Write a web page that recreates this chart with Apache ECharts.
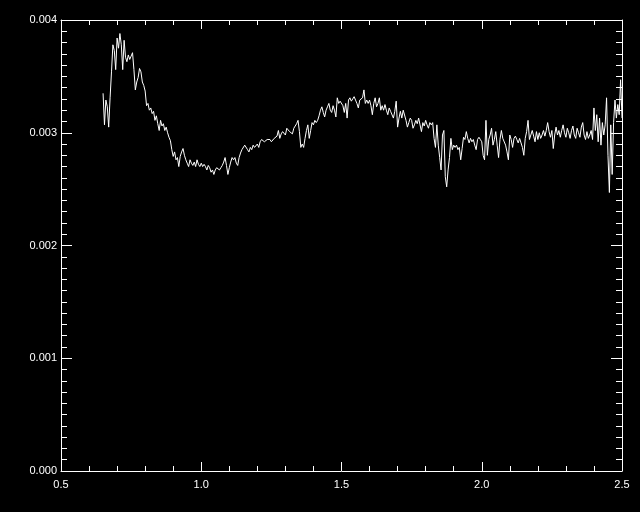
<!DOCTYPE html>
<html>
<head>
<meta charset="utf-8">
<script src="https://cdn.jsdelivr.net/npm/echarts@6/dist/echarts.min.js"></script>
<style>
html,body{margin:0;padding:0;background:#000;}
#chart{width:640px;height:512px;}
</style>
</head>
<body>
<div id="chart"></div>
<script>
// Wavelength samples (x axis)
const wavelength = [
0.650,0.655,0.660,0.665,0.670,0.675,0.680,0.685,0.690,0.695,0.700,
0.705,0.710,0.715,0.720,0.725,0.730,0.735,0.740,0.745,0.750,
0.755,0.760,0.765,0.770,0.775,0.780,0.785,0.790,0.795,0.800,
0.805,0.810,0.815,0.820,0.825,0.830,0.835,0.840,0.845,0.850,
0.855,0.860,0.865,0.870,0.875,0.880,0.885,0.890,0.895,0.900,
0.905,0.910,0.915,0.920,0.925,0.930,0.935,0.940,0.945,0.950,
0.955,0.960,0.965,0.970,0.975,0.980,0.985,0.990,0.995,1.000,
1.005,1.010,1.015,1.020,1.025,1.030,1.035,1.040,1.045,1.050,
1.055,1.060,1.065,1.070,1.075,1.080,1.085,1.090,1.095,1.100,
1.105,1.110,1.115,1.120,1.125,1.130,1.135,1.140,1.145,1.150,
1.155,1.160,1.165,1.170,1.175,1.180,1.185,1.190,1.195,1.200,
1.205,1.210,1.215,1.220,1.225,1.230,1.235,1.240,1.245,1.250,
1.255,1.260,1.265,1.270,1.275,1.280,1.285,1.290,1.295,1.300,
1.305,1.310,1.315,1.320,1.325,1.330,1.335,1.340,1.345,1.350,
1.355,1.360,1.365,1.370,1.375,1.380,1.385,1.390,1.395,1.400,
1.405,1.410,1.415,1.420,1.425,1.430,1.435,1.440,1.445,1.450,
1.455,1.460,1.465,1.470,1.475,1.480,1.485,1.490,1.495,1.500,
1.505,1.510,1.515,1.520,1.525,1.530,1.535,1.540,1.545,1.550,
1.555,1.560,1.565,1.570,1.575,1.580,1.585,1.590,1.595,1.600,
1.605,1.610,1.615,1.620,1.625,1.630,1.635,1.640,1.645,1.650,
1.655,1.660,1.665,1.670,1.675,1.680,1.685,1.690,1.695,1.700,
1.705,1.710,1.715,1.720,1.725,1.730,1.735,1.740,1.745,1.750,
1.755,1.760,1.765,1.770,1.775,1.780,1.785,1.790,1.795,1.800,
1.805,1.810,1.815,1.820,1.825,1.830,1.835,1.840,1.845,1.850,
1.855,1.860,1.865,1.870,1.875,1.880,1.885,1.890,1.895,1.900,
1.905,1.910,1.915,1.920,1.925,1.930,1.935,1.940,1.945,1.950,
1.955,1.960,1.965,1.970,1.975,1.980,1.985,1.990,1.995,2.000,
2.005,2.010,2.015,2.020,2.025,2.030,2.035,2.040,2.045,2.050,
2.055,2.060,2.065,2.070,2.075,2.080,2.085,2.090,2.095,2.100,
2.105,2.110,2.115,2.120,2.125,2.130,2.135,2.140,2.145,2.150,
2.155,2.160,2.165,2.170,2.175,2.180,2.185,2.190,2.195,2.200,
2.205,2.210,2.215,2.220,2.225,2.230,2.235,2.240,2.245,2.250,
2.255,2.260,2.265,2.270,2.275,2.280,2.285,2.290,2.295,2.300,
2.305,2.310,2.315,2.320,2.325,2.330,2.335,2.340,2.345,2.350,
2.355,2.360,2.365,2.370,2.375,2.380,2.385,2.390,2.395,2.400,
2.405,2.410,2.415,2.420,2.425,2.430,2.435,2.440,2.445,2.450,
2.455,2.460,2.465,2.470,2.475,2.480,2.485,2.490,2.495,2.500
];

// Flux values (y axis)
const flux = [
0.00335,0.00307,0.00329,0.00323,0.00305,0.00331,0.00354,0.00378,0.00373,0.00356,0.00384,
0.00375,0.00388,0.00378,0.00356,0.00382,0.00367,0.00363,0.00369,0.00365,0.00368,
0.00371,0.00356,0.00338,0.00345,0.00349,0.00357,0.00354,0.00345,0.00342,0.00337,
0.00324,0.00326,0.00320,0.00322,0.00317,0.00319,0.00311,0.00315,0.00308,0.00302,
0.00311,0.00306,0.00308,0.00302,0.00305,0.00300,0.00296,0.00293,0.00285,0.00279,
0.00283,0.00276,0.00278,0.00270,0.00279,0.00283,0.00286,0.00280,0.00276,0.00273,
0.00270,0.00276,0.00273,0.00271,0.00274,0.00270,0.00276,0.00272,0.00270,0.00273,
0.00270,0.00272,0.00270,0.00267,0.00271,0.00269,0.00265,0.00267,0.00263,0.00267,
0.00269,0.00270,0.00267,0.00269,0.00271,0.00274,0.00278,0.00271,0.00263,0.00269,
0.00274,0.00278,0.00276,0.00278,0.00273,0.00271,0.00278,0.00282,0.00285,0.00286,
0.00289,0.00288,0.00285,0.00283,0.00287,0.00285,0.00289,0.00287,0.00288,0.00290,
0.00287,0.00292,0.00294,0.00295,0.00292,0.00291,0.00294,0.00293,0.00294,0.00292,
0.00291,0.00295,0.00294,0.00297,0.00302,0.00295,0.00299,0.00301,0.00302,0.00298,
0.00304,0.00305,0.00301,0.00302,0.00299,0.00304,0.00306,0.00308,0.00311,0.00301,
0.00287,0.00290,0.00287,0.00295,0.00302,0.00307,0.00295,0.00302,0.00309,0.00307,
0.00311,0.00309,0.00311,0.00315,0.00320,0.00323,0.00318,0.00314,0.00320,0.00323,
0.00326,0.00320,0.00318,0.00324,0.00320,0.00314,0.00331,0.00326,0.00328,0.00329,
0.00324,0.00318,0.00326,0.00313,0.00329,0.00331,0.00328,0.00330,0.00332,0.00329,
0.00326,0.00322,0.00329,0.00328,0.00331,0.00338,0.00326,0.00329,0.00326,0.00329,
0.00324,0.00316,0.00326,0.00331,0.00323,0.00326,0.00331,0.00320,0.00324,0.00320,
0.00325,0.00320,0.00316,0.00322,0.00319,0.00320,0.00313,0.00319,0.00328,0.00305,
0.00313,0.00319,0.00313,0.00320,0.00319,0.00311,0.00305,0.00309,0.00313,0.00311,
0.00304,0.00307,0.00311,0.00308,0.00313,0.00307,0.00301,0.00309,0.00306,0.00311,
0.00307,0.00304,0.00309,0.00307,0.00309,0.00295,0.00287,0.00307,0.00289,0.00278,
0.00267,0.00298,0.00302,0.00261,0.00252,0.00267,0.00278,0.00295,0.00285,0.00289,
0.00287,0.00289,0.00285,0.00287,0.00276,0.00286,0.00296,0.00294,0.00301,0.00295,
0.00291,0.00295,0.00292,0.00294,0.00289,0.00285,0.00294,0.00296,0.00294,0.00292,
0.00280,0.00276,0.00311,0.00280,0.00294,0.00298,0.00304,0.00289,0.00294,0.00301,
0.00289,0.00278,0.00294,0.00302,0.00295,0.00294,0.00289,0.00283,0.00276,0.00298,
0.00294,0.00287,0.00295,0.00297,0.00294,0.00291,0.00295,0.00291,0.00287,0.00280,
0.00295,0.00301,0.00311,0.00294,0.00295,0.00302,0.00297,0.00292,0.00301,0.00294,
0.00300,0.00295,0.00298,0.00302,0.00297,0.00302,0.00309,0.00301,0.00296,0.00302,
0.00286,0.00298,0.00305,0.00298,0.00302,0.00296,0.00302,0.00307,0.00300,0.00296,
0.00304,0.00300,0.00295,0.00302,0.00306,0.00298,0.00295,0.00304,0.00300,0.00296,
0.00305,0.00309,0.00298,0.00294,0.00301,0.00295,0.00298,0.00302,0.00294,0.00322,
0.00302,0.00316,0.00292,0.00313,0.00289,0.00309,0.00298,0.00307,0.00331,0.00280,
0.00247,0.00307,0.00263,0.00309,0.00329,0.00313,0.00325,0.00316,0.00347,0.00313
];

// Axis tick settings
const xTicks = [0.5, 1.0, 1.5, 2.0, 2.5];
const yTicks = [0.000, 0.001, 0.002, 0.003, 0.004];

const points = wavelength.map((w, i) => [w, flux[i]]);

const white = '#ffffff';
const labelFont = { color: white, fontSize: 11, fontFamily: 'Liberation Sans, Arial, sans-serif' };

function xAxisDef(pos, showLabel) {
  return {
    type: 'value', position: pos,
    min: xTicks[0], max: xTicks[xTicks.length - 1], interval: 0.5,
    axisLine: { show: true, onZero: false, lineStyle: { color: white, width: 1 } },
    axisTick: { show: true, inside: true, length: 9, lineStyle: { color: white, width: 1 } },
    minorTick: { show: true, splitNumber: 5, length: 5, lineStyle: { color: white, width: 1 } },
    splitLine: { show: false }, minorSplitLine: { show: false },
    axisLabel: Object.assign({ show: showLabel, margin: 8, formatter: v => v.toFixed(1) }, labelFont)
  };
}
function yAxisDef(pos, showLabel) {
  return {
    type: 'value', position: pos,
    min: yTicks[0], max: yTicks[yTicks.length - 1], interval: 0.001,
    axisLine: { show: true, onZero: false, lineStyle: { color: white, width: 1 } },
    axisTick: { show: true, inside: true, length: 11, lineStyle: { color: white, width: 1 } },
    minorTick: { show: true, splitNumber: 10, length: 6, lineStyle: { color: white, width: 1 } },
    splitLine: { show: false }, minorSplitLine: { show: false },
    axisLabel: Object.assign({ show: showLabel, margin: 4, formatter: v => v.toFixed(3) }, labelFont)
  };
}

const chart = echarts.init(document.getElementById('chart'), null, { renderer: 'canvas' });
chart.setOption({
  backgroundColor: '#000000',
  animation: false,
  grid: { left: 61, right: 18, top: 20, bottom: 41, containLabel: false },
  xAxis: [xAxisDef('bottom', true), xAxisDef('top', false)],
  yAxis: [yAxisDef('left', true), yAxisDef('right', false)],
  series: [{
    type: 'line',
    xAxisIndex: 0, yAxisIndex: 0,
    data: points,
    showSymbol: false,
    symbol: 'none',
    lineStyle: { color: white, width: 1 },
    clip: true
  }]
});
</script>
</body>
</html>
